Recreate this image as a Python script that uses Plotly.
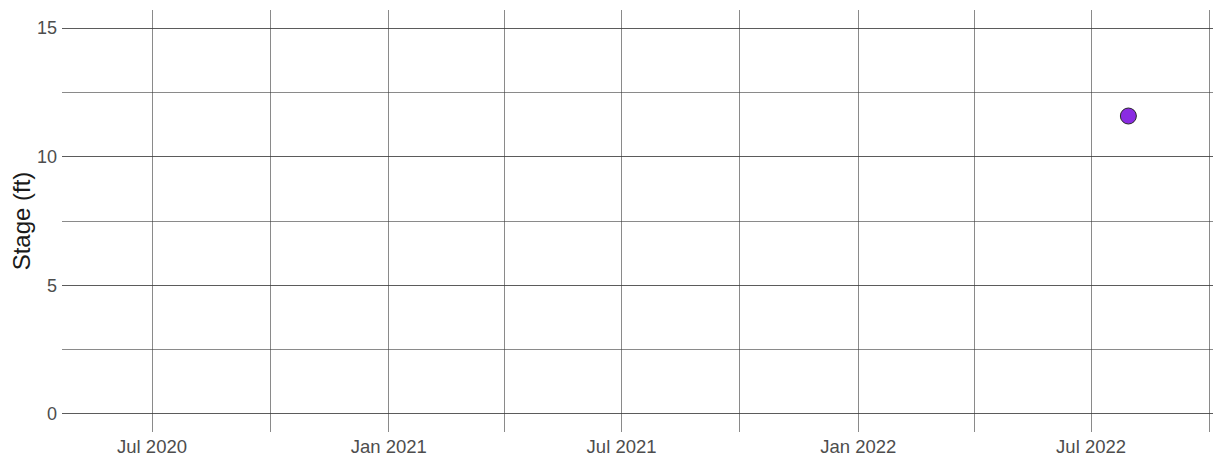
import plotly.graph_objects as go

dates = ["2022-07-30"]
stage_ft = [11.58]

x_range = ["2020-04-22", "2022-10-10"]
y_range = [-0.7, 15.7]
y_ticks = [0, 5, 10, 15]

grid = "rgba(60,60,60,0.6)"

fig = go.Figure()
fig.add_trace(go.Scatter(
    x=dates, y=stage_ft, mode="markers",
    marker=dict(size=16, color="#8A2BE2", line=dict(color="#2a2a2a", width=1)),
    showlegend=False,
))

# page body has an 8px margin, so the figure is sized/offset to compensate
fig.update_layout(
    width=1213, height=452,
    margin=dict(l=54, r=0, t=2, b=28),
    paper_bgcolor="white", plot_bgcolor="white",
    font=dict(family="Liberation Sans, Arial, sans-serif", size=18, color="#4d4d4d"),
    xaxis=dict(
        range=x_range, type="date", automargin=False,
        tick0="2020-07-01", dtick="M6", tickformat="%b %Y",
        showgrid=True, gridcolor=grid, gridwidth=1,
        minor=dict(dtick="M3", showgrid=True, gridcolor=grid, gridwidth=1),
        zeroline=False, showline=False, ticks="", ticklabelstandoff=1,
        tickfont=dict(size=18.5, color="#4d4d4d"),
    ),
    yaxis=dict(
        range=y_range, tickvals=y_ticks, automargin=False,
        showgrid=True, gridcolor=grid, gridwidth=1,
        minor=dict(dtick=2.5, showgrid=True, gridcolor=grid, gridwidth=1),
        zeroline=False, showline=False, ticks="", ticklabelstandoff=4,
        title=dict(text="Stage (ft)", font=dict(size=24, color="#1a1a1a"), standoff=0),
        tickfont=dict(size=18, color="#4d4d4d"),
    ),
)

fig.write_html("out.html")
